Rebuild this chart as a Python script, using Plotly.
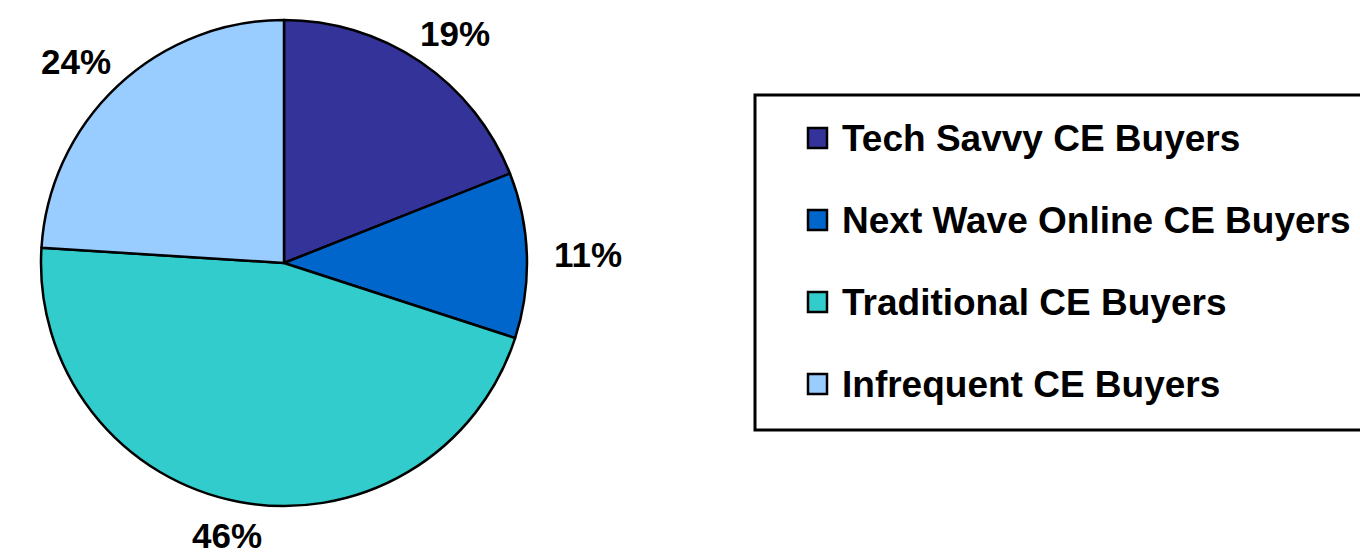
import math

import plotly.graph_objects as go

W, H = 1360, 556

segments = ["Tech Savvy CE Buyers", "Next Wave Online CE Buyers", "Traditional CE Buyers", "Infrequent CE Buyers"]
shares = [19, 11, 46, 24]
colors = ["#333399", "#0066CC", "#33CCCC", "#99CCFF"]

FONT = "Liberation Sans, Arial, sans-serif"

# pie geometry (pixels)
cx, cy, r = 284, 263, 243

fig = go.Figure(
    go.Pie(
        labels=segments,
        values=shares,
        marker={"colors": colors, "line": {"color": "black", "width": 2.5}},
        sort=False,
        direction="clockwise",
        rotation=0,
        textinfo="none",
        showlegend=False,
        domain={"x": [(cx - r) / W, (cx + r) / W], "y": [1 - (cy + r) / H, 1 - (cy - r) / H]},
    )
)

# percent labels outside slices (Excel-like spread: wider horizontally)
total = sum(shares)
cum = 0
for val in shares:
    mid = (cum + val / 2) / total * 2 * math.pi
    cum += val
    lx = cx + 1.25 * r * math.sin(mid)
    ly = cy - 1.14 * r * math.cos(mid)
    fig.add_annotation(
        x=lx / W, y=1 - ly / H, xref="paper", yref="paper",
        text=f"<b>{val}%</b>", showarrow=False,
        font={"family": FONT, "size": 35, "color": "black"},
        xanchor="center", yanchor="middle",
    )

# legend box drawn by hand to match the wide row spacing
fig.add_shape(type="rect", xref="paper", yref="paper",
              x0=755 / W, x1=1375 / W, y0=1 - 430 / H, y1=1 - 95 / H,
              line={"color": "black", "width": 3}, fillcolor="white", layer="below")
for i, (name, col) in enumerate(zip(segments, colors)):
    yc = 138 + i * 82
    fig.add_shape(type="rect", xref="paper", yref="paper",
                  x0=808 / W, x1=827 / W, y0=1 - (yc + 10) / H, y1=1 - (yc - 10) / H,
                  line={"color": "black", "width": 2.5}, fillcolor=col)
    fig.add_annotation(
        x=840 / W, y=1 - yc / H, xref="paper", yref="paper",
        text=f"<b>{name}</b>", showarrow=False,
        font={"family": FONT, "size": 37, "color": "black"},
        xanchor="left", yanchor="middle",
    )

fig.update_layout(
    width=W, height=H,
    margin={"l": 0, "r": 0, "t": 0, "b": 0},
    paper_bgcolor="white", plot_bgcolor="white",
)
fig.write_html(
    "out.html",
    config={"displayModeBar": False},
    post_script="document.body.style.margin = '0';",
)
